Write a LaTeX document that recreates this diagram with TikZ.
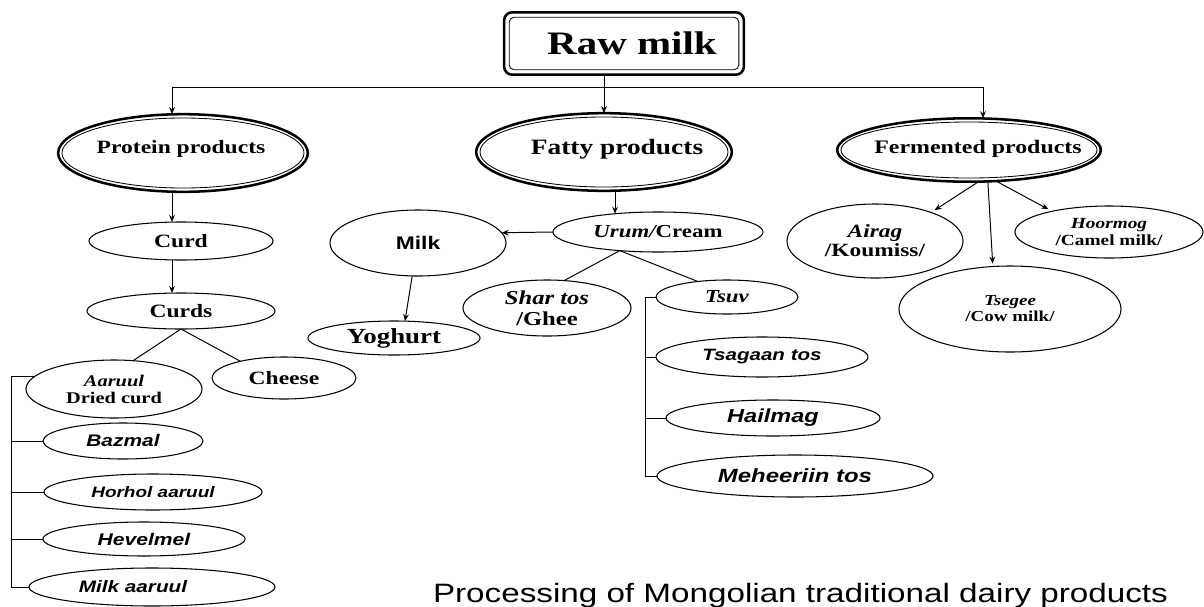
\documentclass[tikz,border=0pt]{standalone}
\usepackage{fontspec}
\setmainfont{Liberation Serif}[FakeStretch=1.25]
\newfontfamily\ari{Liberation Sans}[FakeStretch=1.25]
\usetikzlibrary{arrows.meta,calc,shapes.geometric}
% zero-size text box, shifted right by half of #1 and raised by #2
\newcommand\ztext[3]{\makebox[0pt]{\hspace*{#1}\raisebox{#2}[0pt][0pt]{#3}}}
\begin{document}
\begin{tikzpicture}[x=0.025cm,y=-0.025cm,
  every node/.style={inner sep=0pt,outer sep=0pt,text=black},
  el/.style 2 args={ellipse,draw,line width=0.75pt,minimum width=#1cm,minimum height=#2cm,align=center},
  bigel/.style 2 args={ellipse,draw,line width=1.8pt,minimum width=#1cm,minimum height=#2cm},
  srf/.style={font=\fontsize{#1}{#1}\selectfont\bfseries},
  srf2/.style 2 args={font=\fontsize{#1}{#2}\selectfont\bfseries},
  sbi/.style={font=\ari\fontsize{#1}{#1}\selectfont\bfseries\itshape},
  ln/.style={line width=0.7pt},
  arr/.style={line width=0.7pt,-{Stealth[length=5pt,width=4pt]}},
]
\fill[white] (0,0) rectangle (1204,606);
\useasboundingbox (0,0) rectangle (1204,606);

% top box
\node[draw,line width=1.8pt,rounded corners=0.2cm,minimum width=5.99cm,minimum height=1.56cm,srf=23.3] (raw) at (624,43.5) {\hspace*{0.4cm}Raw milk};
\draw[line width=0.6pt,rounded corners=0.12cm] ($(raw.north west)+(5,5)$) rectangle ($(raw.south east)+(-5,-5)$);

% main categories
\node[bigel={6.24}{1.94},srf=13.4] (prot) at (183,153) {\ztext{-0.1cm}{0pt}{Protein products}};
\draw[line width=0.6pt] (prot.center) ellipse [x radius=3.025cm,y radius=0.875cm];
\node[bigel={6.39}{1.94},srf=15.6] (fat) at (604,152) {\ztext{0.65cm}{-2.1pt}{Fatty products}};
\draw[line width=0.6pt] (fat.center) ellipse [x radius=3.1cm,y radius=0.875cm];
\node[bigel={6.59}{1.585},srf=13.6] (ferm) at (969,150) {\ztext{0.45cm}{-2.8pt}{Fermented products}};
\draw[line width=0.6pt] (ferm.center) ellipse [x radius=3.2cm,y radius=0.7cm];

% protein branch
\node[el={4.6}{0.95},srf=13.4] (curd) at (181,241) {Curd};
\node[el={4.7}{0.9},srf=13.4] (curds) at (181,311) {Curds};
\node[el={4.4}{1.45},srf2={11.6}{12}] (aar) at (114,389) {{\itshape Aaruul}\\Dried curd};
\node[el={3.6}{1.05},srf=13.4] (cheese) at (284,378) {Cheese};
\node[el={4.0}{0.9},sbi=11.9] (baz) at (123,441) {Bazmal};
\node[el={5.45}{0.9},sbi=10.8] (hor) at (153,492) {Horhol aaruul};
\node[el={5.05}{0.85},sbi=12] (hev) at (144,539) {Hevelmel};
\node[el={6.15}{0.95},sbi=11.8] (maar) at (152,587) {Milk aaruul\hspace*{0.95cm}};

% fatty branch
\node[el={4.4}{1.65},font=\ari\bfseries\fontsize{13}{13}\selectfont] (milk) at (418,243) {Milk};
\node[el={4.3}{0.85},srf=15.3] (yog) at (394,338) {Yoghurt};
\node[el={5.25}{1.0},srf=13] (urum) at (658,232) {{\itshape Urum/}Cream};
\node[el={4.2}{1.4},srf2={14}{15}] (shar) at (547,308) {{\itshape Shar tos}\\/Ghee};
\node[el={3.55}{0.85},srf=13] (tsuv) at (727,297) {\itshape Tsuv};
\node[el={5.3}{1.0},sbi=11.7] (tsag) at (762,357) {Tsagaan tos};
\node[el={5.35}{0.9},sbi=13.4] (hail) at (773,418) {Hailmag};
\node[el={6.9}{1.05},sbi=13.6] (mehe) at (795,476) {Meheeriin tos};

% fermented branch
\node[el={4.4}{1.85},srf2={13.3}{13.5}] (air) at (875,241) {{\itshape Airag}\\/Koumiss/};
\node[el={4.7}{1.3},srf2={11}{12}] (hoor) at (1109,232) {{\itshape Hoormog}\\/Camel milk/};
\node[el={5.55}{2.15},srf2={10.8}{11.5}] (tse) at (1010,309) {{\itshape Tsegee}\\/Cow milk/};

% caption
\node[anchor=base west,font=\ari\fontsize{18.9}{20}\selectfont] (cap) at (433,602) {Processing of Mongolian traditional dairy products};

% connectors from raw milk
\coordinate (pj) at (172,87);
\coordinate (fj) at (983,87);
\draw[ln] (pj) -- (fj);
\draw[arr] (fat.north |- raw.south) -- (fat.north);
\draw[arr] (pj) -- (pj |- prot.north);
\draw[arr] (fj) -- (fj |- ferm.north);

% protein connectors
\draw[arr] (pj |- prot.south) -- (pj |- curd.north);
\draw[arr] (pj |- curd.south) -- (pj |- curds.north);
\draw[ln] (curds.south) -- (aar.56);
\draw[ln] (curds.south) -- (cheese.159);
\coordinate (lb) at (11,377);
\draw[ln] (aar.171.5 -| lb) -- (maar.west -| lb);
\draw[ln] (aar.171.5 -| lb) -- (aar.171.5);
\draw[ln] (baz.west -| lb) -- (baz.west);
\draw[ln] (hor.west -| lb) -- (hor.west);
\draw[ln] (hev.west -| lb) -- (hev.west);
\draw[ln] (maar.west -| lb) -- (maar.west);

% fatty connectors
\draw[arr] (urum.157.5 |- fat.south) -- (urum.157.5);
\draw[arr] (urum.west) -- (milk.7);
\draw[arr] (milk.260) -- (yog.57);
\draw[ln] (urum.206) -- (shar.58);
\draw[ln] (urum.206) -- (tsuv.152);
\coordinate (rb) at (645,297);
\draw[ln] (tsuv.west -| rb) -- (mehe.west -| rb);
\draw[ln] (tsuv.west -| rb) -- (tsuv.west);
\draw[ln] (tsag.west -| rb) -- (tsag.west);
\draw[ln] (hail.west -| rb) -- (hail.west);
\draw[ln] (mehe.west -| rb) -- (mehe.west);

% fermented connectors
\draw[arr,shorten >=3pt] (ferm.287) -- (air.27);
\draw[arr,shorten >=2pt] (ferm.301) -- (tse.112);
\draw[arr,shorten >=3pt] (ferm.311) -- (hoor.160.5);
\end{tikzpicture}
\end{document}
